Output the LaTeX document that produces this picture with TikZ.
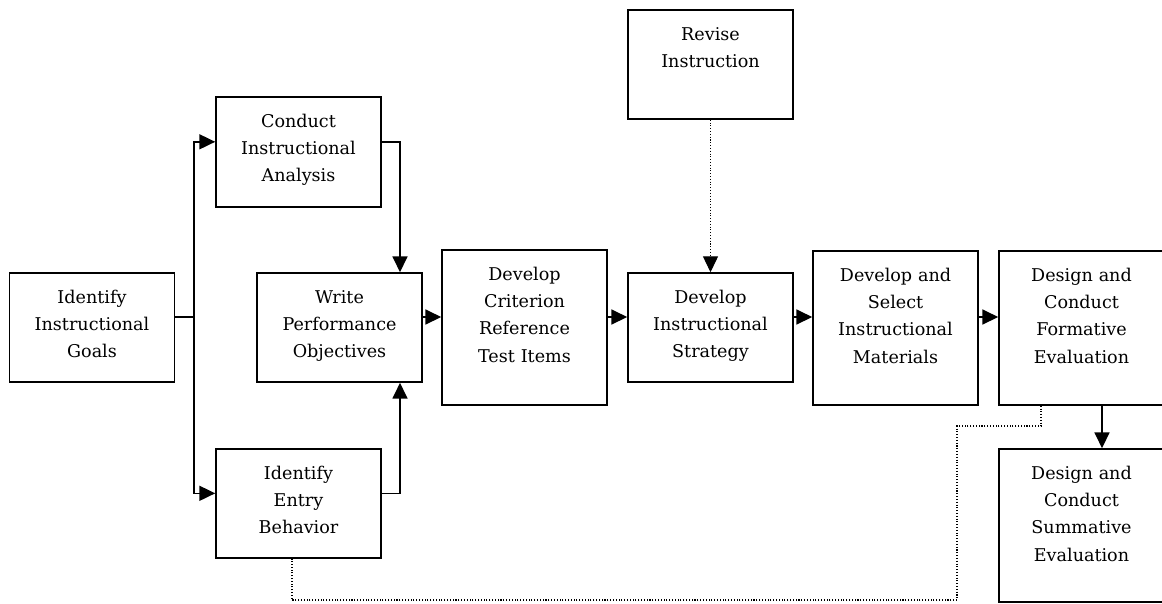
\documentclass[tikz,border=0pt]{standalone}
\usepackage{fontspec}
\setmainfont{DejaVu Serif}
\usetikzlibrary{arrows.meta}

\begin{document}
\begin{tikzpicture}[x=0.02cm,y=-0.02cm,line width=.9pt,
    >={Triangle[length=9pt,width=8.5pt]}]

  \useasboundingbox (0,0) rectangle (1162,603);

  \begin{scope}[every node/.style={draw, text width=3.1cm, inner xsep=.1cm, inner ysep=0pt,
      align=center, text height=.6cm, font=\fontsize{10}{15.6}\selectfont}]
    \node[text depth=1.58cm] (1)  at (92,327.5)     {Identify\\Instructional\\Goals};
    \node[text depth=1.6cm]  (2)  at (298.5,152)    {Conduct\\Instructional\\Analysis};
    \node[text depth=1.58cm] (3)  at (298.5,503.5)  {Identify\\Entry\\Behavior};
    \node[text depth=1.58cm] (4)  at (339.5,327.5)  {Write\\Performance\\Objectives};
    \node[text depth=2.5cm]  (5)  at (524.5,327.5)  {Develop\\Criterion\\Reference\\Test Items};
    \node[text depth=1.58cm] (6)  at (710.5,64.5)   {Revise\\Instruction};
    \node[text depth=1.58cm] (7)  at (710.5,327.5)  {Develop\\Instructional\\Strategy};
    \node[text depth=2.48cm] (8)  at (895.5,328)    {Develop and\\Select\\Instructional\\Materials};
    \node[text depth=2.48cm] (9)  at (1081.5,328)   {Design and\\Conduct\\Formative\\Evaluation};
    \node[text depth=2.46cm] (10) at (1081.5,525.5) {Design and\\Conduct\\Summative\\Evaluation};
  \end{scope}

  \coordinate (fork) at (194,317);
  \coordinate (join) at (400,317);
  \coordinate (drop) at (1102,0);
  \coordinate (back) at (1041,0);
  \coordinate (tail) at (292,0);

  \draw (1.east |- fork) -- (fork);
  \draw[->] (fork) |- ([yshift=5.8pt]2.west);
  \draw[->] (fork) |- ([yshift=5.8pt]3.west);
  \draw[->] ([yshift=5.8pt]2.east) -| (4.north -| join);
  \draw[->] ([yshift=5.8pt]3.east) -| (4.south -| join);
  \draw[->] (4.east |- fork) -- (5.west |- fork);
  \draw[->] (5.east |- fork) -- (7.west |- fork);
  \draw[->] (7.east |- fork) -- (8.west |- fork);
  \draw[->] (8.east |- fork) -- (9.west |- fork);
  \draw[->] (9.south -| drop) -- (10.north -| drop);

  \begin{scope}[densely dotted, line width=.6pt]
    \draw[->] (6) -- (7);
    \draw (9.south -| back) |- (957,426) |- (292,600) -- (3.south -| tail);
  \end{scope}

\end{tikzpicture}
\end{document}
